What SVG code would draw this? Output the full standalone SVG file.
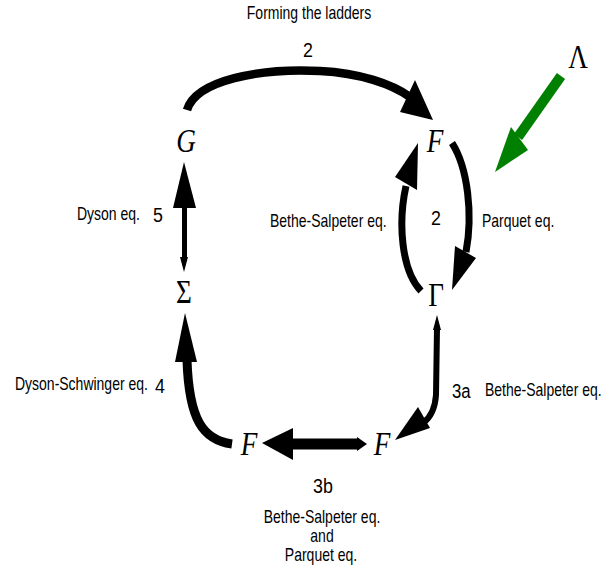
<svg xmlns="http://www.w3.org/2000/svg" width="611" height="576" viewBox="0 0 611 576">
<style>
.lbl{font-family:"Liberation Sans",Arial,sans-serif;font-size:17.5px;fill:#000}
.num{font-family:"Liberation Sans",Arial,sans-serif;font-size:21px;fill:#000}
.mi{font-family:"Liberation Serif","Times New Roman",serif;font-size:34px;font-style:italic;fill:#000}
.mu{font-family:"Liberation Serif","Times New Roman",serif;font-size:34px;fill:#000}
.sh{fill:none;stroke:#000;stroke-linecap:butt}
.hd{fill:#000;stroke:none}
.gsh{fill:none;stroke:#008000}
.ghd{fill:#008000;stroke:none}
</style>
<rect width="611" height="576" fill="#fff"/>
<g id="node-G"><text class="mi" transform="translate(186,152) scale(0.8,1)" text-anchor="middle">G</text></g>
<g id="node-F-top"><text class="mi" transform="translate(435,152) scale(0.8,1)" text-anchor="middle">F</text></g>
<g id="node-Lambda"><text class="mu" transform="translate(578,68) scale(0.8,1)" text-anchor="middle">Λ</text></g>
<g id="node-Gamma"><text class="mu" transform="translate(436,306) scale(0.8,1)" text-anchor="middle">Γ</text></g>
<g id="node-Sigma"><text class="mu" transform="translate(184,303) scale(0.8,1)" text-anchor="middle">Σ</text></g>
<g id="node-F-left"><text class="mi" transform="translate(249,455) scale(0.8,1)" text-anchor="middle">F</text></g>
<g id="node-F-right"><text class="mi" transform="translate(382,455) scale(0.8,1)" text-anchor="middle">F</text></g>
<g id="connectors">
  <!-- top arc G -> F -->
  <path class="sh" stroke-width="8.5" d="M187,110 C196,80 260,68 320,71 C360,73 392,84 410,97"/>
  <polygon class="hd" points="433,120 415,80 400,112"/>
  <!-- green Lambda arrow -->
  <path class="gsh" stroke-width="10" d="M561,76 L518,137"/>
  <polygon class="ghd" points="495,172 511,127 528,150"/>
  <!-- F -> Gamma (right) -->
  <path class="sh" stroke-width="7" d="M452,143 C468,168 473,215 466,252"/>
  <polygon class="hd" points="452,290 455,246 476,258"/>
  <!-- Gamma -> F (left) -->
  <path class="sh" stroke-width="7" d="M421,291 C401,270 398,222 406,186"/>
  <polygon class="hd" points="418,143 395,177 417,190"/>
  <!-- Dyson: Sigma <-> G -->
  <path class="sh" stroke-width="5" d="M184.5,206 L184.5,259"/>
  <polygon class="hd" points="184,162 173,208 196,208"/>
  <polygon class="hd" points="184,272 180,257 188,257"/>
  <!-- Dyson-Schwinger: F -> Sigma -->
  <path class="sh" stroke-width="9" d="M232,444 C203,440 189,420 187,360"/>
  <polygon class="hd" points="185,313 175,362 197,362"/>
  <!-- 3a: Gamma -> F -->
  <path class="sh" stroke-width="6" d="M437,328 L436,395 C435,410 430,418 423,423"/>
  <polygon class="hd" points="437,315 433,330 441,330"/>
  <polygon class="hd" points="395,440 418,407 430,428"/>
  <!-- 3b: F <-> F -->
  <path class="sh" stroke-width="11" d="M292,444 L359,444"/>
  <polygon class="hd" points="262,443 293,428 293,460"/>
  <polygon class="hd" points="367,444 357,437 357,451"/>
</g>
<g id="labels">
  <text class="lbl" transform="translate(309,19) scale(0.8,1)" text-anchor="middle">Forming the ladders</text>
  <text class="num" transform="translate(308,57) scale(0.85,1)" text-anchor="middle">2</text>
  <text class="num" transform="translate(436,225) scale(0.85,1)" text-anchor="middle">2</text>
  <text class="lbl" transform="translate(270,227) scale(0.8,1)">Bethe-Salpeter eq.</text>
  <text class="lbl" transform="translate(482,227) scale(0.8,1)">Parquet eq.</text>
  <text class="lbl" transform="translate(77,220) scale(0.8,1)">Dyson eq.</text>
  <text class="num" transform="translate(153,222) scale(0.85,1)">5</text>
  <text class="lbl" transform="translate(15,390) scale(0.8,1)">Dyson-Schwinger eq.</text>
  <text class="num" transform="translate(155,393) scale(0.85,1)">4</text>
  <text class="num" transform="translate(452,398) scale(0.8,1)">3a</text>
  <text class="lbl" transform="translate(485,396) scale(0.8,1)">Bethe-Salpeter eq.</text>
  <text class="num" transform="translate(323,493) scale(0.85,1)" text-anchor="middle">3b</text>
  <text class="lbl" transform="translate(322,523) scale(0.8,1)" text-anchor="middle">Bethe-Salpeter eq.</text>
  <text class="lbl" transform="translate(322,542) scale(0.8,1)" text-anchor="middle">and</text>
  <text class="lbl" transform="translate(321,561) scale(0.8,1)" text-anchor="middle">Parquet eq.</text>
</g>
</svg>
